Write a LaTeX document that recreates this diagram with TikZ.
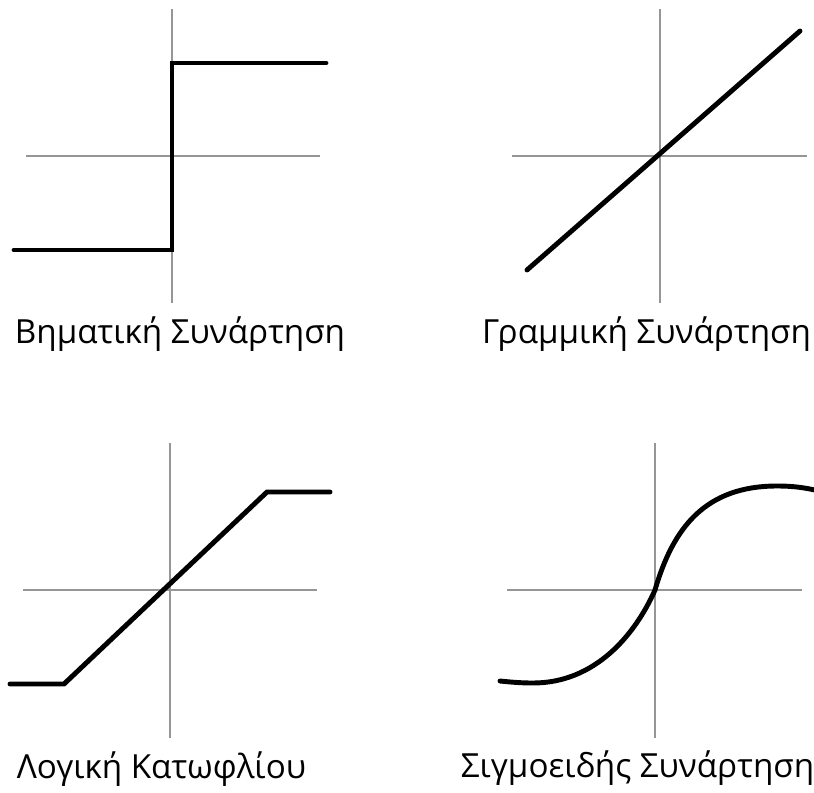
\documentclass[tikz,border=0pt]{standalone}
\usepackage{fontspec}
\setmainfont{Open Sans}
\usepackage{tikz}
\usetikzlibrary{positioning, calc}
\definecolor{grisEje}{RGB}{150, 150, 150}

\begin{document}
\begin{tikzpicture}[
            eje/.style={grisEje, line width=1.4pt},
            curva/.style={black, line width=2.8pt, line join=miter, line cap=round},
            titulo/.style={anchor=base, inner sep=0pt, font=\fontsize{18.9}{22}\selectfont}]

            \useasboundingbox (0,0) rectangle (16.28,-15.84);

            % Step function
            \begin{scope}[shift={(3.44,-3.12)}]
                \draw[eje] (-2.92,0) -- (2.96,0);
                \draw[eje] (0,-2.94) -- (0,2.94);
                \draw[curva] (-3.16,-1.88) -- (0,-1.88) -- (0,1.86) -- (3.08,1.86);
                \node[titulo] (bima) at (0.16,-3.74) {Βηματική Συνάρτηση};
            \end{scope}

            % Linear function
            \begin{scope}[shift={(13.2,-3.12)}]
                \draw[eje] (-2.96,0) -- (2.94,0);
                \draw[eje] (0,-2.94) -- (0,2.94);
                \draw[curva] (-2.66,-2.28) -- (2.8,2.5);
                \node[titulo] (grammi) at (-0.27,-3.74) {Γραμμική Συνάρτηση};
            \end{scope}

            % Threshold logic
            \begin{scope}[shift={(3.4,-11.8)}]
                \draw[eje] (-2.94,0) -- (2.94,0);
                \draw[eje] (0,-2.96) -- (0,2.94);
                \draw[curva] (-3.2,-1.88) -- (-2.12,-1.88) -- (1.94,1.96) -- (3.2,1.96);
                \node[titulo] (katofli) at (-0.17,-3.76) {Λογική Κατωφλίου};
            \end{scope}

            % Sigmoid function
            \begin{scope}[shift={(13.1,-11.8)}]
                \draw[eje] (-2.96,0) -- (2.94,0);
                \draw[eje] (0,-2.96) -- (0,2.94);
                \draw[curva] (-3.1,-1.82) .. controls (-2.9,-1.84) and (-2.7,-1.86) .. (-2.44,-1.86)
                    .. controls (-1.2,-1.86) and (-0.4,-0.9) .. (0,0)
                    .. controls (0.36,1.24) and (1.0,2.08) .. (2.44,2.08)
                    .. controls (2.8,2.08) and (3.0,2.04) .. (3.2,2.0);
                \node[titulo] (sigmo) at (-0.35,-3.74) {Σιγμοειδής Συνάρτηση};
            \end{scope}
        \end{tikzpicture}
\end{document}
